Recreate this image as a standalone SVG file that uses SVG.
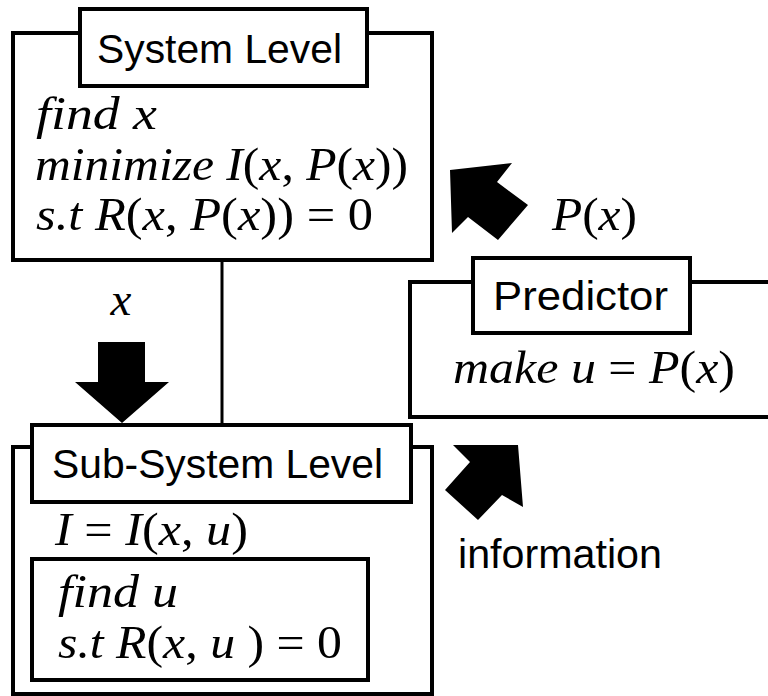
<svg xmlns="http://www.w3.org/2000/svg" width="768" height="696" viewBox="0 0 768 696">
<style>
.box{fill:#fff;stroke:#000;stroke-width:4}
.lbl{font-family:"Liberation Sans",Arial,sans-serif;font-size:41px;fill:#000}
.math{font-family:"Liberation Serif","Times New Roman",serif;font-size:47px;fill:#000;font-style:italic}
.up{font-style:normal}
.arrow{fill:#000;stroke:none}
.line{stroke:#000;stroke-width:3;fill:none}
</style>
<rect width="768" height="696" fill="#fff"/>
<g id="connectors">
<line class="line" x1="222" y1="260" x2="222" y2="425"/>
<polygon class="arrow" points="98,342 145,342 145,382 169,382 122,423 75,382 98,382"/>
<polygon class="arrow" points="450,170 512,163 497,182 528,205 498,240 468,217 452,233"/>
<polygon class="arrow" points="518,445 453,445 470,462 445,490 478,520 502,495 523,507"/>
</g>
<g id="system-level">
<rect class="box" x="13" y="33" width="419" height="227"/>
<rect class="box" x="80" y="9" width="287" height="77"/>
<text class="lbl" x="97" y="63" textLength="245" lengthAdjust="spacingAndGlyphs">System Level</text>
<text class="math" x="36" y="129" textLength="121" lengthAdjust="spacingAndGlyphs">find x</text>
<text class="math" x="35" y="180" textLength="373" lengthAdjust="spacingAndGlyphs">minimize I<tspan class="up">(</tspan>x<tspan class="up">, </tspan>P<tspan class="up">(</tspan>x<tspan class="up">))</tspan></text>
<text class="math" x="36" y="230" textLength="337" lengthAdjust="spacingAndGlyphs">s.t R<tspan class="up">(</tspan>x<tspan class="up">, </tspan>P<tspan class="up">(</tspan>x<tspan class="up">)) = 0</tspan></text>
</g>
<g id="x-label">
<text class="math" x="121" y="315" text-anchor="middle">x</text>
</g>
<g id="px-label">
<text class="math" x="552" y="230" textLength="85" lengthAdjust="spacingAndGlyphs">P<tspan class="up">(</tspan>x<tspan class="up">)</tspan></text>
</g>
<g id="predictor">
<rect class="box" x="410" y="282" width="370" height="135"/>
<rect class="box" x="473" y="258" width="217" height="75"/>
<text class="lbl" x="493" y="310" textLength="175" lengthAdjust="spacingAndGlyphs">Predictor</text>
<text class="math" x="453" y="383" textLength="282" lengthAdjust="spacingAndGlyphs">make u <tspan class="up">=</tspan> P<tspan class="up">(</tspan>x<tspan class="up">)</tspan></text>
</g>
<g id="sub-system-level">
<rect class="box" x="13" y="447" width="419" height="247"/>
<rect class="box" x="32" y="425" width="379" height="77"/>
<text class="lbl" x="52" y="478" textLength="331" lengthAdjust="spacingAndGlyphs">Sub-System Level</text>
<text class="math" x="55" y="545" textLength="193" lengthAdjust="spacingAndGlyphs">I <tspan class="up">=</tspan> I<tspan class="up">(</tspan>x<tspan class="up">, </tspan>u<tspan class="up">)</tspan></text>
<rect class="box" x="32" y="559" width="336" height="121"/>
<text class="math" x="58" y="607" textLength="120" lengthAdjust="spacingAndGlyphs">find u</text>
<text class="math" x="58" y="658" textLength="284" lengthAdjust="spacingAndGlyphs">s.t R<tspan class="up">(</tspan>x<tspan class="up">, </tspan>u <tspan class="up">) = 0</tspan></text>
</g>
<g id="information-label">
<text class="lbl" x="458" y="568" textLength="204" lengthAdjust="spacingAndGlyphs">information</text>
</g>
</svg>
